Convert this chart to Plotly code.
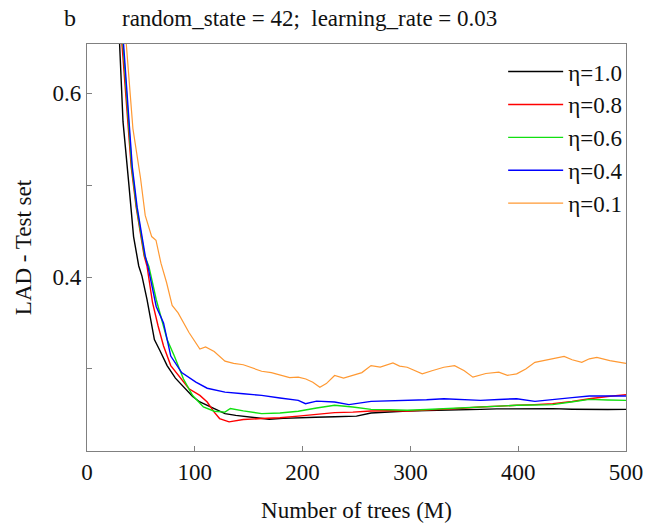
import plotly.graph_objects as go

# ---- data ----
n_eta10 = [30, 33.4, 38.9, 43.2, 48, 51, 55.7, 62.5, 67.6, 74.3, 82, 91.2, 98, 104.7, 110, 118, 128, 138, 148.6, 158, 169, 182, 196, 212, 229.7, 240, 250, 263.5, 280, 297, 315, 331, 350, 365, 380, 398.6, 415, 432, 450, 466, 483, 500]
v_eta10 = [0.66, 0.569, 0.5, 0.444, 0.412, 0.401, 0.3755, 0.332, 0.320, 0.3036, 0.290, 0.2784, 0.270, 0.264, 0.261, 0.257, 0.2514, 0.2495, 0.248, 0.2465, 0.2453, 0.2462, 0.247, 0.2475, 0.248, 0.2482, 0.2486, 0.252, 0.2535, 0.2543, 0.2548, 0.255, 0.2555, 0.256, 0.2565, 0.2568, 0.2566, 0.2568, 0.2562, 0.2557, 0.2558, 0.256]

n_eta08 = [32, 41, 45.6, 53, 55.7, 60.8, 65.9, 71, 77.7, 84.5, 94.6, 104.7, 111.5, 118, 123, 131.8, 145, 162, 179, 196, 213, 229.7, 246.6, 263.5, 280, 297, 315, 331, 348, 365, 382, 398.6, 415, 432, 450, 466, 483, 500]
v_eta08 = [0.66, 0.52, 0.476, 0.423, 0.4115, 0.372, 0.347, 0.325, 0.3036, 0.293, 0.2784, 0.2712, 0.264, 0.253, 0.246, 0.2424, 0.245, 0.246, 0.2468, 0.2486, 0.2504, 0.2525, 0.253, 0.2543, 0.2545, 0.2543, 0.2552, 0.256, 0.2572, 0.2586, 0.2598, 0.2604, 0.2612, 0.2622, 0.2645, 0.2676, 0.270, 0.272]

n_eta06 = [33, 41.5, 46, 53.5, 57.4, 64.2, 74.3, 81, 89.5, 98, 108, 118, 128, 133, 145, 162, 179, 196, 213, 229.7, 246.6, 263.5, 280, 297, 315, 331, 348, 365, 382, 398.6, 415, 432, 449, 466, 483, 500]
v_eta06 = [0.66, 0.52, 0.476, 0.423, 0.4115, 0.3755, 0.332, 0.314, 0.289, 0.271, 0.2586, 0.254, 0.253, 0.257, 0.2543, 0.2514, 0.252, 0.254, 0.2575, 0.2604, 0.2586, 0.256, 0.2555, 0.255, 0.2558, 0.2568, 0.2578, 0.2586, 0.2596, 0.2604, 0.2608, 0.2612, 0.264, 0.2669, 0.2662, 0.2658]

n_eta04 = [33.5, 42, 46.5, 54, 56.5, 64.2, 71, 77.7, 87.8, 101, 111.5, 128, 145, 162, 179, 196, 202.7, 213, 229.7, 243, 263.5, 280, 297, 315, 331, 348, 365, 382, 398.6, 415.5, 432, 450, 466, 483, 500]
v_eta04 = [0.66, 0.52, 0.476, 0.423, 0.4115, 0.368, 0.350, 0.314, 0.296, 0.2856, 0.279, 0.2748, 0.273, 0.2712, 0.2683, 0.2658, 0.2622, 0.265, 0.264, 0.2612, 0.2647, 0.2652, 0.2658, 0.2665, 0.2676, 0.2668, 0.2658, 0.2668, 0.2676, 0.2647, 0.2669, 0.2688, 0.2705, 0.2708, 0.2705]

n_eta01 = [36, 42.6, 49.6, 54, 60, 64, 68.6, 73.8, 79, 84.5, 94.6, 104.7, 110, 118, 128, 136, 145, 154, 162, 171, 179, 188, 196, 203, 209.5, 216, 222, 229.7, 238, 246.6, 255, 263.5, 272, 283.8, 290, 297, 304, 311, 320, 331, 341, 350, 358, 370, 382, 390, 398.6, 407, 415.5, 428, 442.6, 450, 459, 466, 473, 485, 492, 500]
v_eta01 = [0.66, 0.5615, 0.508, 0.467, 0.444, 0.440, 0.415, 0.394, 0.369, 0.361, 0.3396, 0.3216, 0.324, 0.319, 0.3085, 0.306, 0.3045, 0.301, 0.2975, 0.296, 0.2935, 0.2905, 0.291, 0.289, 0.2856, 0.280, 0.284, 0.2928, 0.290, 0.2928, 0.296, 0.3036, 0.302, 0.3065, 0.303, 0.3018, 0.298, 0.2946, 0.298, 0.3018, 0.3036, 0.298, 0.291, 0.295, 0.2964, 0.293, 0.2946, 0.300, 0.3072, 0.310, 0.3137, 0.310, 0.3072, 0.311, 0.3126, 0.309, 0.3075, 0.306]

series = [
    ("η=1.0", n_eta10, v_eta10, "#000000", 1.4),
    ("η=0.8", n_eta08, v_eta08, "#ff0000", 1.4),
    ("η=0.6", n_eta06, v_eta06, "#11e011", 1.4),
    ("η=0.4", n_eta04, v_eta04, "#0000ff", 1.4),
    ("η=0.1", n_eta01, v_eta01, "#ff9933", 1.2),
]

x_ticks = [0, 100, 200, 300, 400, 500]
y_ticks = [0.3, 0.4, 0.5, 0.6]
y_ticktext = ["", "0.4", "", "0.6"]

SERIF = "Liberation Serif"

fig = go.Figure()
for name, xs, ys, col, w in series:
    fig.add_trace(go.Scatter(x=xs, y=ys, mode="lines", name=name,
                             line=dict(color=col, width=w)))

fig.update_layout(
    width=655, height=531,
    margin=dict(l=87, r=24, t=44, b=73),
    paper_bgcolor="white", plot_bgcolor="white",
    font=dict(family=SERIF, size=22, color="#111111"),
    showlegend=True,
    legend=dict(x=1.004, xanchor="right", y=0.985, yanchor="top",
                bgcolor="rgba(0,0,0,0)", font=dict(family=SERIF, size=23),
                itemwidth=55, tracegroupgap=0),
    annotations=[
        dict(text="b", xref="paper", yref="paper", x=-0.047, y=1.065,
             xanchor="left", yanchor="middle", showarrow=False,
             font=dict(family=SERIF, size=24, color="#111111")),
        dict(text="random_state = 42;  learning_rate = 0.03", xref="paper", yref="paper",
             x=0.0607, y=1.063, xanchor="left", yanchor="middle", showarrow=False,
             font=dict(family=SERIF, size=23, color="#111111")),
    ],
)

fig.update_xaxes(range=[0, 500], tickvals=x_ticks, ticks="inside", ticklen=5,
                 tickcolor="#808080", showline=True, linecolor="#808080", linewidth=1.2,
                 mirror=True, showgrid=False, zeroline=False,
                 tickfont=dict(family=SERIF, size=23),
                 title=dict(text="Number of trees (M)", font=dict(family=SERIF, size=23), standoff=18))
fig.update_yaxes(range=[0.2107, 0.6535], tickvals=y_ticks, ticktext=y_ticktext,
                 ticks="inside", ticklen=5, tickcolor="#808080",
                 showline=True, linecolor="#808080", linewidth=1.2,
                 mirror=True, showgrid=False, zeroline=False,
                 tickfont=dict(family=SERIF, size=23),
                 title=dict(text="LAD - Test set", font=dict(family=SERIF, size=23), standoff=14))

fig.write_html("out.html")
